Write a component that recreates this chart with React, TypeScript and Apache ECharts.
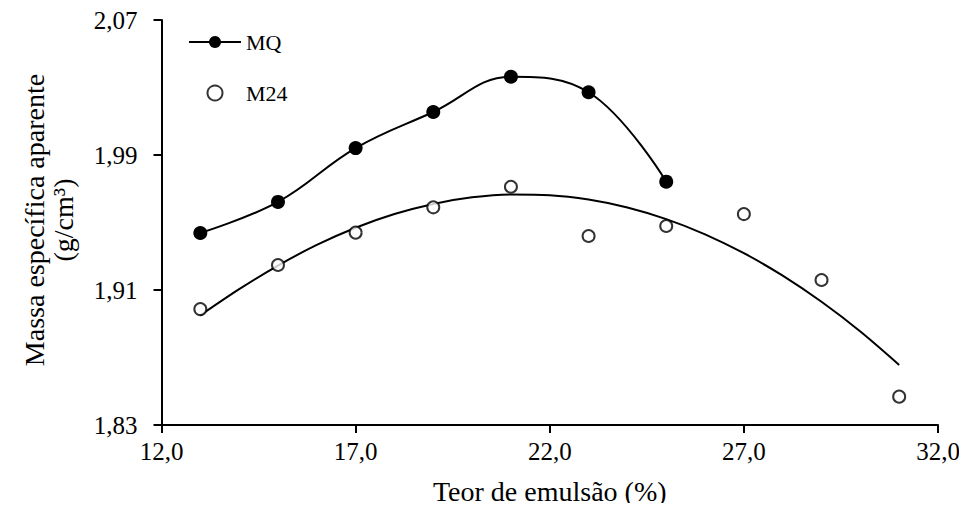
import React, { useEffect, useRef } from "react";
import * as echarts from "echarts";

const FONT = "'Liberation Serif', 'Times New Roman', serif";

const xValues = [13, 15, 17, 19, 21, 23, 25, 27, 29, 31];
const mqValues = [1.9438, 1.9622, 1.9941, 2.0155, 2.0364, 2.0272, 1.9742];
const m24Values = [1.8987, 1.9248, 1.944, 1.959, 1.9712, 1.942, 1.9479, 1.955, 1.9159, 1.8468];
const m24TrendX = [13, 14, 15, 16, 17, 18, 19, 20, 21, 22, 23, 24, 25, 26, 27, 28, 29, 30, 31];
const m24Trend = [
  1.895, 1.9105, 1.9245, 1.9367, 1.9469, 1.955, 1.961, 1.9649, 1.9666, 1.9662,
  1.9636, 1.9589, 1.952, 1.943, 1.9318, 1.9185, 1.903, 1.8854, 1.8656,
];

const xTicks = { min: 12, max: 32, interval: 5 };
const yTicks = { min: 1.83, max: 2.07, interval: 0.08 };

export default function App() {
  const ref = useRef<HTMLDivElement>(null);
  useEffect(() => {
    if (!ref.current) return;
    const chart = echarts.init(ref.current, null, { renderer: "svg" });
    chart.setOption({
      animation: false,
      backgroundColor: "#fff",
      grid: { left: 161.5, right: 29, top: 20, bottom: 86, containLabel: false },
      legend: {
        orient: "vertical",
        left: 188,
        top: 31,
        padding: 0,
        itemWidth: 52,
        itemHeight: 15,
        itemGap: 29,
        data: ["MQ", "M24"],
        textStyle: { fontFamily: FONT, fontSize: 22, color: "#000" },
      },
      xAxis: {
        type: "value",
        min: xTicks.min,
        max: xTicks.max,
        interval: xTicks.interval,
        name: "Teor de emulsão (%)",
        nameLocation: "middle",
        nameGap: 52,
        nameTextStyle: { fontFamily: FONT, fontSize: 28, color: "#000" },
        axisLine: { lineStyle: { color: "#000", width: 2 } },
        axisTick: { show: true, inside: false, length: 8, lineStyle: { color: "#000", width: 2 } },
        axisLabel: {
          fontFamily: FONT,
          fontSize: 25,
          color: "#000",
          margin: 14,
          formatter: (v: number) => v.toFixed(1).replace(".", ","),
        },
        splitLine: { show: false },
      },
      yAxis: {
        type: "value",
        min: yTicks.min,
        max: yTicks.max,
        interval: yTicks.interval,
        axisLine: { show: true, lineStyle: { color: "#000", width: 2 } },
        axisTick: { show: true, inside: false, length: 8, lineStyle: { color: "#000", width: 2 } },
        axisLabel: {
          fontFamily: FONT,
          fontSize: 25,
          color: "#000",
          margin: 24,
          formatter: (v: number) => v.toFixed(2).replace(".", ","),
        },
        splitLine: { show: false },
      },
      graphic: [
        {
          type: "text",
          x: 34,
          y: 220,
          rotation: Math.PI / 2,
          style: {
            text: "Massa específica aparente",
            fontFamily: FONT,
            fontSize: 28,
            fill: "#000",
            align: "center",
            verticalAlign: "middle",
          },
        },
        {
          type: "text",
          x: 63,
          y: 220,
          rotation: Math.PI / 2,
          style: {
            text: "(g/cm³)",
            fontFamily: FONT,
            fontSize: 28,
            fill: "#000",
            align: "center",
            verticalAlign: "middle",
          },
        },
      ],
      series: [
        {
          name: "M24 trend",
          type: "line",
          smooth: 0.3,
          symbol: "none",
          data: m24TrendX.map((x, i) => [x, m24Trend[i]]),
          lineStyle: { color: "#000", width: 2 },
          z: 2,
        },
        {
          name: "MQ",
          type: "line",
          smooth: 0.4,
          symbol: "circle",
          symbolSize: 14,
          data: mqValues.map((v, i) => [xValues[i], v]),
          lineStyle: { color: "#000", width: 2 },
          itemStyle: { color: "#000" },
          z: 3,
        },
        {
          name: "M24",
          type: "scatter",
          symbol: "circle",
          symbolSize: 12,
          data: m24Values.map((v, i) => [xValues[i], v]),
          itemStyle: { color: "#fff", borderColor: "#000", borderWidth: 2 },
          z: 4,
        },
      ],
    });
    return () => chart.dispose();
  }, []);
  return <div ref={ref} style={{ width: 967, height: 511, margin: -8 }} />;
}
